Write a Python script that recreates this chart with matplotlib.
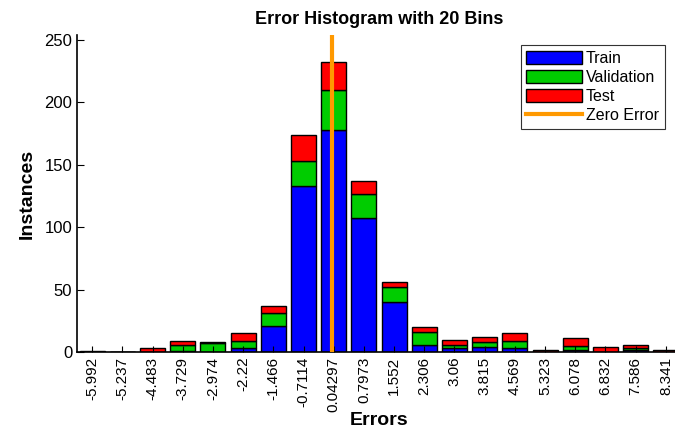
import numpy as np
import matplotlib
matplotlib.use("Agg")
import matplotlib.pyplot as plt
from matplotlib.patches import Patch
from matplotlib.lines import Line2D

plt.rcParams['font.family'] = ['Liberation Sans', 'DejaVu Sans']

# bin centres (error values) and instance counts per subset
bin_labels = ["-5.992", "-5.237", "-4.483", "-3.729", "-2.974", "-2.22", "-1.466",
              "-0.7114", "0.04297", "0.7973", "1.552", "2.306", "3.06", "3.815",
              "4.569", "5.323", "6.078", "6.832", "7.586", "8.341"]
train = [0, 0, 0, 1, 0, 3, 21, 133, 178, 107, 40, 6, 3, 4, 3, 0, 2, 0, 2, 0]
validation = [0, 0, 0, 5, 7, 6, 10, 20, 32, 20, 12, 10, 3, 4, 6, 0, 3, 0, 1, 0]
test = [1, 0, 3, 3, 1, 6, 6, 21, 22, 10, 4, 4, 4, 4, 6, 2, 6, 4, 3, 2]

centers = np.array([float(s) for s in bin_labels])
train = np.array(train)
validation = np.array(validation)
test = np.array(test)
step = centers[1] - centers[0]
bw = step * 0.83

fig = plt.figure(figsize=(6.75, 4.30), dpi=100)
ax = fig.add_axes([77 / 675, 78 / 430, 604 / 675, 317 / 430])

ax.bar(centers, train, width=bw, color='#0000ff', edgecolor='black', linewidth=1, label='Train')
ax.bar(centers, validation, width=bw, bottom=train, color='#00cc00', edgecolor='black',
       linewidth=1, label='Validation')
ax.bar(centers, test, width=bw, bottom=train + validation, color='#ff0000', edgecolor='black',
       linewidth=1, label='Test')
ax.axvline(0, color='#ff9900', linewidth=3, label='Zero Error', zorder=5)

ax.set_xlim(centers[0] - step / 2, centers[-1] + step / 2)
ax.set_ylim(0, 254)
ax.set_xticks(centers)
ax.set_xticklabels(bin_labels, rotation=90, fontsize=11)
ax.set_yticks([0, 50, 100, 150, 200, 250])
ax.tick_params(axis='y', labelsize=12, direction='in', length=5)
ax.tick_params(axis='x', direction='in', length=4)
ax.spines['top'].set_visible(False)
ax.spines['right'].set_visible(False)
ax.spines['left'].set_linewidth(1.2)
ax.spines['bottom'].set_linewidth(1.2)

ax.set_title('Error Histogram with 20 Bins', fontsize=13, fontweight='bold', pad=8)
ax.set_xlabel('Errors', fontsize=14, fontweight='bold', labelpad=0)
ax.set_ylabel('Instances', fontsize=14, fontweight='bold', labelpad=6)

handles = [Patch(facecolor='#0000ff', edgecolor='black', label='Train'),
           Patch(facecolor='#00cc00', edgecolor='black', label='Validation'),
           Patch(facecolor='#ff0000', edgecolor='black', label='Test'),
           Line2D([0], [0], color='#ff9900', linewidth=3, label='Zero Error')]
leg = ax.legend(handles=handles, loc='upper right', bbox_to_anchor=(0.973, 0.968),
                borderaxespad=0, fontsize=11.5, fancybox=False, edgecolor='#333333',
                framealpha=1, handlelength=3.5, handleheight=0.9, labelspacing=0.25,
                borderpad=0.35, handletextpad=0.25)
leg.get_frame().set_linewidth(0.8)

fig.savefig("out.png", dpi=100)
